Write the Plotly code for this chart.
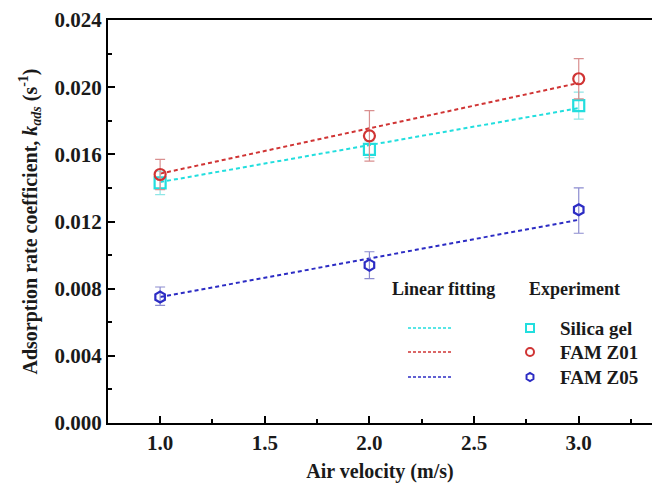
import plotly.graph_objects as go

# ---- data ----
air_velocity = [1.0, 2.0, 3.0]

silica_gel = [0.0143, 0.0163, 0.0189]
silica_err_plus = [0.0007, 0.0005, 0.0008]
silica_err_minus = [0.0007, 0.0005, 0.0008]

fam_z01 = [0.0148, 0.0171, 0.0205]
z01_err_plus = [0.0009, 0.0015, 0.0012]
z01_err_minus = [0.0009, 0.0015, 0.0012]

fam_z05 = [0.0075, 0.0094, 0.0127]
z05_err_plus = [0.0006, 0.0008, 0.0013]
z05_err_minus = [0.0005, 0.0008, 0.0014]

# linear fitting lines (values at x = 1 and x = 3)
fit_x = [1.0, 3.0]
silica_fit = [0.01435, 0.01875]
z01_fit = [0.01485, 0.02025]
z05_fit = [0.00750, 0.01210]

series_names = ["Silica gel", "FAM Z01", "FAM Z05"]
x_ticks = [1.0, 1.5, 2.0, 2.5, 3.0]
y_ticks = [0.000, 0.004, 0.008, 0.012, 0.016, 0.020, 0.024]

# ---- styling ----
cyan = "#22dede"
red = "#d03434"
blue = "#2c2cc4"
cyan_err = "#8fe6e6"
red_err = "#d99090"
blue_err = "#8c8cd0"
FONT = "Liberation Serif"
TXT = "#1a1a1a"

fig = go.Figure()

# fit lines
for ys, col in [(silica_fit, cyan), (z01_fit, red), (z05_fit, blue)]:
    fig.add_trace(go.Scatter(x=fit_x, y=ys, mode="lines",
                             line=dict(color=col, width=2, dash="4px,3px"),
                             showlegend=False, hoverinfo="skip"))

# experimental points
specs = [
    (silica_gel, silica_err_plus, silica_err_minus, cyan, cyan_err, "square-open"),
    (fam_z01, z01_err_plus, z01_err_minus, red, red_err, "circle-open"),
    (fam_z05, z05_err_plus, z05_err_minus, blue, blue_err, "hexagon-open"),
]
for (ys, ep, em, col, ecol, sym), name in zip(specs, series_names):
    fig.add_trace(go.Scatter(
        x=air_velocity, y=ys, mode="markers", name=name,
        marker=dict(symbol=sym, size=11, color=col, line=dict(width=2.2, color=col)),
        error_y=dict(type="data", symmetric=False, array=ep, arrayminus=em,
                     color=ecol, thickness=1.2, width=5),
        showlegend=False))

# ---- custom two-column legend (drawn on an overlay axis in pixel units) ----
leg_line_y = [328, 352, 377]
leg_cols = [cyan, red, blue]
leg_syms = ["square-open", "circle-open", "hexagon-open"]
for yy, col, sym, name in zip(leg_line_y, leg_cols, leg_syms, series_names):
    fig.add_trace(go.Scatter(x=[408, 452], y=[yy, yy], mode="lines",
                             line=dict(color=col, width=1.6, dash="3px,2px"),
                             xaxis="x2", yaxis="y2", showlegend=False, hoverinfo="skip"))
    fig.add_trace(go.Scatter(x=[530], y=[yy], mode="markers",
                             marker=dict(symbol=sym, size=8, color=col, line=dict(width=2, color=col)),
                             xaxis="x2", yaxis="y2", showlegend=False, hoverinfo="skip"))
    fig.add_annotation(x=558, y=yy, xref="x2", yref="y2", text="<b>%s</b>" % name,
                       showarrow=False, xanchor="left", yanchor="middle",
                       font=dict(family=FONT, size=19, color=TXT))

fig.add_annotation(x=443, y=289, xref="x2", yref="y2", text="<b>Linear fitting</b>",
                   showarrow=False, xanchor="center", yanchor="middle",
                   font=dict(family=FONT, size=18, color=TXT))
fig.add_annotation(x=574, y=289, xref="x2", yref="y2", text="<b>Experiment</b>",
                   showarrow=False, xanchor="center", yanchor="middle",
                   font=dict(family=FONT, size=18, color=TXT))

tickfont = dict(family=FONT, size=21, color=TXT)
fig.update_layout(
    width=652, height=484,
    margin=dict(l=108, r=0, t=20, b=61),
    paper_bgcolor="white", plot_bgcolor="white",
    font=dict(family=FONT, color=TXT),
    xaxis=dict(range=[0.751, 3.35], tickvals=x_ticks,
               ticktext=["<b>%.1f</b>" % v for v in x_ticks],
               ticks="inside", ticklen=7, tickwidth=1.5, tickcolor="black",
               minor=dict(dtick=0.25, tick0=0, ticks="inside", ticklen=4, tickwidth=1.5, tickcolor="black"),
               showline=True, linecolor="black", linewidth=2, mirror=True,
               showgrid=False, zeroline=False, tickfont=tickfont,
               title=dict(text="<b>Air velocity (m/s)</b>", font=dict(family=FONT, size=20, color=TXT), standoff=10)),
    yaxis=dict(range=[0, 0.024], tickvals=y_ticks,
               ticktext=["<b>%.3f</b>" % v for v in y_ticks],
               ticks="inside", ticklen=7, tickwidth=1.5, tickcolor="black",
               minor=dict(dtick=0.002, tick0=0, ticks="inside", ticklen=4, tickwidth=1.5, tickcolor="black"),
               showline=True, linecolor="black", linewidth=2, mirror=False,
               showgrid=False, zeroline=False, tickfont=tickfont,
               title=dict(text="<b>Adsorption rate coefficient, <i>k</i><sub><i>ads</i></sub> (s<sup>-1</sup>)</b>",
                          font=dict(family=FONT, size=20, color=TXT), standoff=12)),
    xaxis2=dict(overlaying="x", range=[108, 652], visible=False, fixedrange=True),
    yaxis2=dict(overlaying="y", range=[423, 20], visible=False, fixedrange=True),
    showlegend=False,
)

fig.write_html("out.html")
